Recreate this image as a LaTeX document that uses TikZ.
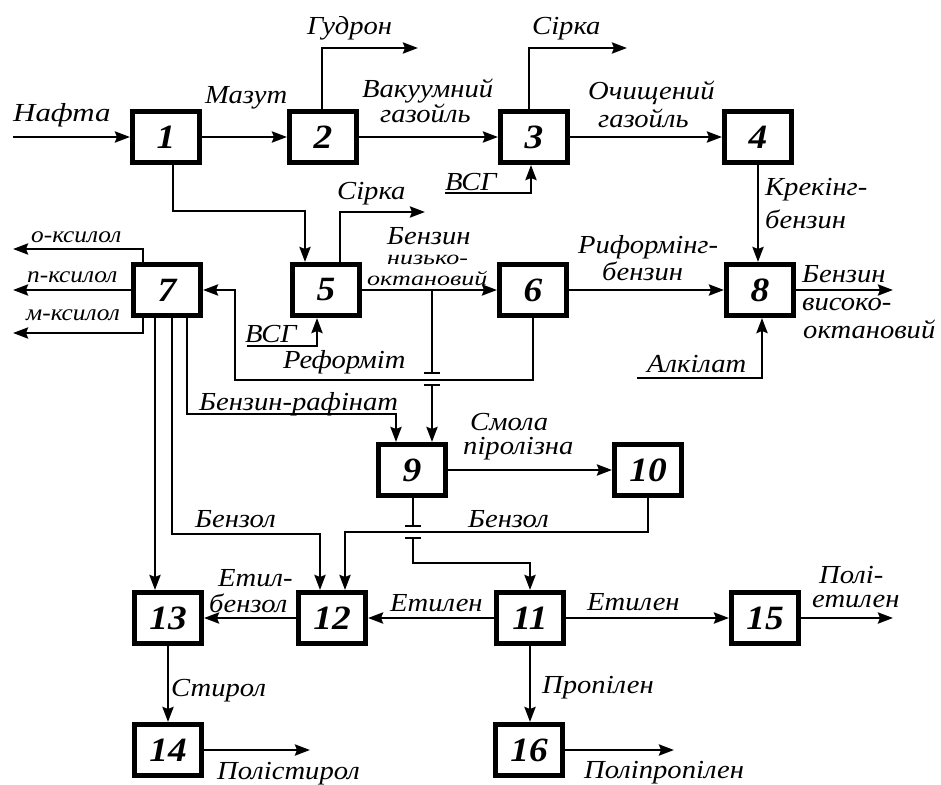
\documentclass[tikz,border=0pt]{standalone}
\usepackage{fontspec}
\usepackage{graphicx}
\setmainfont{Liberation Serif}
\newfontfamily\labfam{Liberation Serif}[FakeStretch=1.1]
\newfontfamily\widefam{Liberation Serif}[FakeStretch=1.3]
\usetikzlibrary{arrows.meta,calc}
\newcommand\labf{\labfam\itshape\fontsize{26}{28}\selectfont}
\newcommand\xylf{\labfam\itshape\fontsize{23}{25}\selectfont}
\newcommand\slabf{\widefam\itshape\fontsize{20}{22}\selectfont}
\newcommand\numf{\labfam\bfseries\itshape\fontsize{34}{34}\selectfont}
\tikzset{
  unit/.style={draw, line width=5pt, minimum width=67pt, minimum height=51pt,
    inner sep=0pt, font=\numf},
  flow/.style={line width=2.8pt, -{Stealth[length=15pt,width=11pt,inset=2pt]}},
  pipe/.style={line width=2.8pt},
  lab/.style={font=\labf, inner sep=0pt, anchor=base west},
  xlab/.style={font=\xylf, inner sep=0pt, anchor=base west},
  slab/.style={font=\slabf, inner sep=0pt, anchor=base west},
}
\begin{document}
\begin{tikzpicture}[x=1pt,y=-1pt]
\useasboundingbox (0,0) rectangle (941,784);

% process units
\node[unit] (n1)  at (166,137) {1};
\node[unit] (n2)  at (323,137) {2};
\node[unit] (n3)  at (534,137) {3};
\node[unit] (n4)  at (758,137) {4};
\node[unit] (n5)  at (326,290) {5};
\node[unit] (n6)  at (533,290) {6};
\node[unit] (n7)  at (167,290) {7};
\node[unit] (n8)  at (760,290) {8};
\node[unit] (n9)  at (412,470) {9};
\node[unit] (n10) at (648,470) {10};
\node[unit] (n11) at (530,618) {11};
\node[unit] (n12) at (332,618) {12};
\node[unit] (n13) at (168,618) {13};
\node[unit] (n14) at (168,750) {14};
\node[unit] (n15) at (765,618) {15};
\node[unit] (n16) at (529,750) {16};

% free ends and bends
\coordinate (inNafta) at (13,137);
\coordinate (outGud)  at (418,48);
\coordinate (outS1)   at (627,48);
\coordinate (inVSG3)  at (445,193);
\coordinate (k15)     at (305,211);
\coordinate (outS2)   at (425,212);
\coordinate (outB8)   at (893,290);
\coordinate (inAlk)   at (637,378);
\coordinate (kR)      at (235,380);
\coordinate (t1)      at (432,373);
\coordinate (t2)      at (432,385);
\coordinate (outO)    at (13,249);
\coordinate (outP)    at (13,290);
\coordinate (outM)    at (13,333);
\coordinate (inVSG5)  at (247,346);
\coordinate (kRaf)    at (396,414);
\coordinate (kBz1)    at (320,534);
\coordinate (kBz2)    at (345,532);
\coordinate (t3)      at (413,526);
\coordinate (t4)      at (413,538);
\coordinate (k11)     at (530,563);
\coordinate (outPE)   at (893,618);
\coordinate (outPS)   at (310,750);
\coordinate (outPP)   at (674,750);
\coordinate (d2)  at ($(n2.north)+(-1,0)$);
\coordinate (d3)  at ($(n3.north)+(-5,0)$);
\coordinate (d3s) at ($(n3.south)+(-3,0)$);
\coordinate (d1)  at ($(n1.south)+(7,0)$);
\coordinate (d5)  at ($(n5.north)+(14,0)$);
\coordinate (d5s) at ($(n5.south)+(-9,0)$);
\coordinate (d8s) at ($(n8.south)+(2,0)$);
\coordinate (d7o) at ($(n7.north)+(-24,0)$);
\coordinate (d7m) at ($(n7.south)+(-24,0)$);
\coordinate (d7a) at ($(n7.south)+(-12,0)$);
\coordinate (d7b) at ($(n7.south)+(5,0)$);
\coordinate (d7c) at ($(n7.south)+(20,0)$);

% top row
\draw[flow] (inNafta) -- (n1.west);
\draw[flow] (n1.east) -- (n2.west);
\draw[flow] (d2) |- (outGud);
\draw[flow] (n2.east) -- (n3.west);
\draw[flow] (d3) |- (outS1);
\draw[flow] (n3.east) -- (n4.west);
\draw[flow] (inVSG3) -| (d3s);
\draw[flow] (n4.south) -- (n4.south |- n8.north);

% second row
\draw[flow] (d1) |- (k15) -- (k15 |- n5.north);
\draw[flow] (d5) |- (outS2);
\draw[flow] (n5.east) -- (n6.west);
\draw[flow] (n6.east) -- (n8.west);
\draw[flow] (n8.east) -- (outB8);
\draw[flow] (inAlk) -| (d8s);
\draw[flow] (inVSG5) -| (d5s);
\draw[flow] (n6.south) |- (kR) |- (n7.east);
\draw[flow] (d7o) |- (outO);
\draw[flow] (n7.west) -- (outP);
\draw[flow] (d7m) |- (outM);

% crossing of the low-octane gasoline line
\draw[pipe] (t1 |- n5.east) -- (t1);
\draw[pipe] ($(t1)+(-8,0)$) -- ($(t1)+(8,0)$);
\draw[pipe] ($(t2)+(-8,0)$) -- ($(t2)+(8,0)$);
\draw[flow] (t2) -- (t2 |- n9.north);

% raffinate, benzene and xylene feeds
\draw[flow] (d7c) |- (kRaf) -- (kRaf |- n9.north);
\draw[flow] (d7a) -- (d7a |- n13.north);
\draw[flow] (d7b) |- (kBz1) -- (kBz1 |- n12.north);
\draw[flow] (n9.east) -- (n10.west);
\draw[flow] (n10.south) |- (kBz2) -- (kBz2 |- n12.north);

% crossing of the benzene line
\draw[pipe] (t3 |- n9.south) -- (t3);
\draw[pipe] ($(t3)+(-8,0)$) -- ($(t3)+(8,0)$);
\draw[pipe] ($(t4)+(-8,0)$) -- ($(t4)+(8,0)$);
\draw[flow] (t4) |- (k11) -- (n11.north);

% bottom rows
\draw[flow] (n11.west) -- (n12.east);
\draw[flow] (n12.west) -- (n13.east);
\draw[flow] (n11.east) -- (n15.west);
\draw[flow] (n15.east) -- (outPE);
\draw[flow] (n13.south) -- (n14.north);
\draw[flow] (n14.east) -- (outPS);
\draw[flow] (n11.south) -- (n11.south |- n16.north);
\draw[flow] (n16.east) -- (outPP);

% stream labels
\node[lab] (lNafta) at (13,121) {\scalebox{1.08}[1]{Нафта}};
\node[lab] (lMaz) at (205,103) {Мазут};
\node[lab] (lGud) at (307,35) {Гудрон};
\node[lab] (lVak) at (362,97) {Вакуумний};
\node[lab] (lGaz1) at (380,122) {газойль};
\node[lab] (lS1) at (532,35) {Сірка};
\node[lab] (lOch) at (588,99) {Очищений};
\node[lab] (lGaz2) at (598,127) {газойль};
\node[lab] (lVSG3) at (445,190) {ВСГ};
\node[lab] (lKr1) at (765,195) {Крекінг-};
\node[lab] (lKr2) at (765,228) {бензин};
\node[lab] (lS2) at (337,199) {Сірка};
\node[lab] (lBn1) at (387,244) {Бензин};
\node[slab] (lBn2) at (387,264) {низько-};
\node[slab] (lBn3) at (367,285) {октановий};
\node[xlab] (lO) at (31,242) {о-ксилол};
\node[xlab] (lPx) at (27,282) {п-ксилол};
\node[xlab] (lMx) at (26,320) {м-ксилол};
\node[lab] (lVSG5) at (245,342) {ВСГ};
\node[lab] (lRef) at (283,368) {Реформіт};
\node[lab] (lRaf) at (199,410) {Бензин-рафінат};
\node[lab] (lRif1) at (578,253) {Риформінг-};
\node[lab] (lRif2) at (602,280) {бензин};
\node[lab] (lVo1) at (802,282) {Бензин};
\node[lab] (lVo2) at (802,310) {високо-};
\node[lab] (lVo3) at (803,338) {октановий};
\node[lab] (lAlk) at (647,372) {Алкілат};
\node[lab] (lSm1) at (470,430) {Смола};
\node[lab] (lSm2) at (463,454) {піролізна};
\node[lab] (lBz1) at (195,527) {Бензол};
\node[lab] (lBz2) at (468,527) {Бензол};
\node[lab] (lEb1) at (218,586) {Етил-};
\node[lab] (lEb2) at (209,612) {бензол};
\node[lab] (lEt1) at (390,611) {Етилен};
\node[lab] (lEt2) at (587,610) {Етилен};
\node[lab] (lPe1) at (819,583) {Полі-};
\node[lab] (lPe2) at (812,607) {етилен};
\node[lab] (lSt) at (171,696) {Стирол};
\node[lab] (lPr) at (542,693) {Пропілен};
\node[lab] (lPs) at (217,779) {Полістирол};
\node[lab] (lPp) at (584,778) {Поліпропілен};
\end{tikzpicture}
\end{document}
